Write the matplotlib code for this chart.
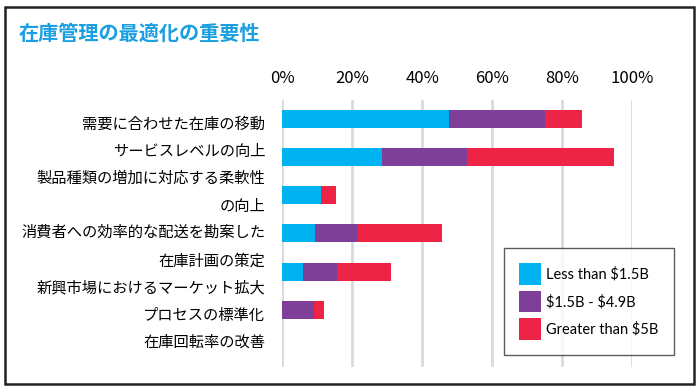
import matplotlib.pyplot as plt
import numpy as np
from matplotlib.patches import Rectangle

plt.rcParams['font.family'] = ['Noto Sans CJK JP', 'DejaVu Sans']

# Data (percent of respondents)
categories = [
    "需要に合わせた在庫の移動",
    "サービスレベルの向上",
    "製品種類の増加に対応する柔軟性\nの向上",
    "消費者への効率的な配送を勘案した\n在庫計画の策定",
    "新興市場におけるマーケット拡大",
    "プロセスの標準化",
    "在庫回転率の改善",
]
series_names = ["Less than \\$1.5B", "\\$1.5B - \\$4.9B", "Greater than \\$5B"]
small = [47.7, 28.6, 11.0, 9.4, 6.0, 0.0, 0.0]
mid = [27.4, 24.3, 0.0, 12.3, 9.7, 9.0, 0.0]
large = [10.6, 42.0, 4.3, 24.0, 15.4, 3.0, 0.0]
xticks = [0, 20, 40, 60, 80, 100]

colors = ['#00B2EF', '#7D3F98', '#EE2447']

fig = plt.figure(figsize=(7, 3.9), dpi=100)
ax = fig.add_axes([0.403, 0.059, 0.5, 0.685])

y = np.arange(len(categories))
left = np.zeros(len(categories))
for vals, name, col in zip([small, mid, large], series_names, colors):
    ax.barh(y, vals, left=left, height=0.47, color=col, label=name, zorder=3)
    left += np.array(vals)

ax.set_xlim(0, 100)
ax.set_ylim(len(categories) - 0.5, -0.5)
ax.set_xticks(xticks)
ax.set_xticklabels([f"{t}%" for t in xticks], fontsize=12)
ax.xaxis.tick_top()
ax.tick_params(axis='x', length=0, pad=9)

# the labels run as an evenly spaced text column, like in the original
line_h = 0.715
nlines = [c.count("\n") + 1 for c in categories]
starts = np.concatenate([[0], np.cumsum(nlines)[:-1]])
label_pos = 0.14 + line_h * (starts + (np.array(nlines) - 1) / 2)
ax.set_yticks(label_pos)
ax.set_yticklabels(categories, fontsize=11, linespacing=1.9, va='center')
ax.tick_params(axis='y', length=0, pad=12)
ax.grid(axis='x', color='#D9D9D9', linewidth=2, zorder=0)
for s in ax.spines.values():
    s.set_visible(False)

leg = ax.legend(loc='lower right', bbox_to_anchor=(1.12, 0.045), frameon=True,
                fancybox=False, edgecolor='#333333',
                prop={'family': ['Lato', 'DejaVu Sans'], 'size': 10.5},
                handlelength=1.45, handleheight=1.9, borderpad=1.05,
                labelspacing=0.4, handletextpad=0.4, borderaxespad=0)
leg.get_frame().set_linewidth(1)

fig.text(0.026, 0.915, "在庫管理の最適化の重要性", fontsize=14.5, color='#1A9FE0',
         fontweight='bold', va='center')

fig.patches.append(Rectangle((0.007, 0.015), 0.984, 0.968, transform=fig.transFigure,
                             fill=False, edgecolor='#222222', linewidth=1.8))

fig.savefig('out.png', dpi=100)
